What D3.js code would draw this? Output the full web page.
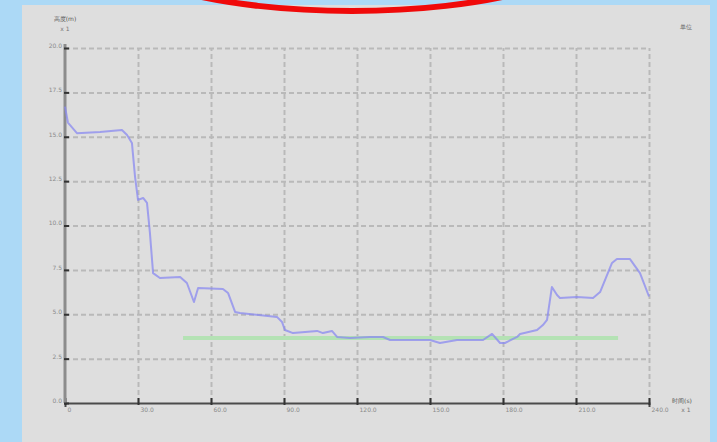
<!DOCTYPE html>
<html>
<head>
<meta charset="utf-8">
<script src="https://cdn.jsdelivr.net/npm/d3@7"></script>
<style>
  html, body { margin: 0; padding: 0; background: #acd9f6; }
  svg { display: block; }
  text { font-family: "DejaVu Sans", sans-serif; }
</style>
</head>
<body>
<div id="chart"></div>
<script>
// tick labels
const xTicks = [0, 30, 60, 90, 120, 150, 180, 210, 240];
const xTickLabels = ["0", "30.0", "60.0", "90.0", "120.0", "150.0", "180.0", "210.0", "240.0"];
const yTicks = [0, 2.5, 5, 7.5, 10, 12.5, 15, 17.5, 20];
const yTickLabels = ["0.0", "2.5", "5.0", "7.5", "10.0", "12.5", "15.0", "17.5", "20.0"];

// measured series (blue)
const measX = [0, 1.2, 4.9, 14.4, 23.4, 25.5, 27.5, 28.8, 30.0, 32.1, 33.7, 34.9, 36.2, 39.0, 47.3, 50.1, 53.0, 54.7,
  64.9, 67.0, 69.9, 71.9, 87.1, 89.2, 90.4, 93.7, 103.6, 106.0, 109.7, 111.8, 117.1, 125.3, 130.7, 133.6, 150.0,
  154.1, 161.1, 171.8, 175.5, 178.8, 180.8, 185.8, 187.0, 194.0, 196.4, 198.1, 200.1, 202.2, 203.4, 210.4, 217.0,
  219.9, 224.8, 226.8, 232.2, 236.3, 240];
const measY = [16.7, 15.8, 15.2, 15.27, 15.38, 15.1, 14.65, 12.73, 11.44, 11.55, 11.27, 9.58, 7.32, 7.04, 7.1, 6.76, 5.69, 6.48,
  6.42, 6.2, 5.13, 5.07, 4.85, 4.56, 4.11, 3.94, 4.06, 3.94, 4.06, 3.72, 3.66, 3.72, 3.72, 3.55, 3.55,
  3.38, 3.55, 3.55, 3.89, 3.38, 3.38, 3.72, 3.89, 4.11, 4.39, 4.68, 6.54, 6.08, 5.92, 5.97, 5.92,
  6.25, 7.89, 8.11, 8.11, 7.32, 6.0];

// reference series (green)
const refX = [48.5, 227.3];
const refY = [3.66, 3.66];

const width = 717, height = 442;
const m = { left: 65, right: 649, top: 48, bottom: 403 };

const svg = d3.select("#chart").append("svg")
  .attr("width", width)
  .attr("height", height);

// panel
svg.append("rect")
  .attr("x", 22).attr("y", 5)
  .attr("width", 688).attr("height", 440)
  .attr("fill", "#dedede");

// red annotation ring at top
svg.append("ellipse")
  .attr("cx", 352).attr("cy", -62)
  .attr("rx", 255).attr("ry", 73)
  .attr("fill", "none")
  .attr("stroke", "#f00a0a")
  .attr("stroke-width", 6);

const x = d3.scaleLinear().domain([0, 240]).range([m.left, m.right]);
const y = d3.scaleLinear().domain([0, 20]).range([m.bottom, m.top]);

// grid
const gridX = svg.append("g")
  .attr("transform", `translate(0, ${m.bottom})`)
  .call(d3.axisBottom(x).tickValues(xTicks.slice(1)).tickSize(-(m.bottom - m.top)).tickFormat(""));
const gridY = svg.append("g")
  .attr("transform", `translate(${m.left}, 0)`)
  .call(d3.axisLeft(y).tickValues(yTicks.slice(1)).tickSize(-(m.right - m.left)).tickFormat(""));
[gridX, gridY].forEach(g => {
  g.select(".domain").remove();
  g.selectAll("line")
    .attr("stroke", "#b9b9b9")
    .attr("stroke-width", 2)
    .attr("stroke-dasharray", "5,3");
});

// axes
const xAxis = svg.append("g")
  .attr("transform", `translate(0, ${m.bottom})`)
  .call(d3.axisBottom(x).tickValues(xTicks).tickSize(4).tickFormat((d, i) => xTickLabels[i]));
xAxis.select(".domain").attr("stroke", "#4a4a4a").attr("stroke-width", 2);
xAxis.selectAll(".tick line").attr("stroke", "#333").attr("stroke-width", 2).attr("y1", -5).attr("y2", 2);
xAxis.selectAll(".tick text")
  .attr("fill", "#8a8a8a").attr("font-size", 6)
  .attr("text-anchor", "start").attr("dx", 2).attr("y", 5);

const yAxis = svg.append("g")
  .attr("transform", `translate(${m.left}, 0)`)
  .call(d3.axisLeft(y).tickValues(yTicks).tickSize(4).tickFormat((d, i) => yTickLabels[i]));
yAxis.select(".domain").attr("stroke", "#8c8c8c").attr("stroke-width", 3)
  .attr("d", `M0,${m.bottom}V${m.top - 4}`);
yAxis.selectAll(".tick line").attr("stroke", "#333").attr("stroke-width", 2).attr("x1", 4).attr("x2", -1);
yAxis.selectAll(".tick text")
  .attr("fill", "#8a8a8a").attr("font-size", 6)
  .attr("x", -3).attr("dy", "-0.1em");

// reference line
svg.append("path")
  .datum(refX.map((d, i) => [d, refY[i]]))
  .attr("fill", "none")
  .attr("stroke", "#b4e2b4")
  .attr("stroke-width", 4)
  .attr("d", d3.line().x(d => x(d[0])).y(d => y(d[1])));

// measured line
svg.append("path")
  .datum(measX.map((d, i) => [d, measY[i]]))
  .attr("fill", "none")
  .attr("stroke", "#8a8af0")
  .attr("stroke-opacity", 0.75)
  .attr("stroke-width", 2)
  .attr("stroke-linejoin", "round")
  .attr("d", d3.line().x(d => x(d[0])).y(d => y(d[1])));

// axis titles
svg.append("text").attr("x", 65).attr("y", 21)
  .attr("text-anchor", "middle").attr("font-size", 6).attr("fill", "#555")
  .text("高度(m)");
svg.append("text").attr("x", 65).attr("y", 31)
  .attr("text-anchor", "middle").attr("font-size", 6).attr("fill", "#777")
  .text("x 1");
svg.append("text").attr("x", 682).attr("y", 403)
  .attr("text-anchor", "middle").attr("font-size", 6).attr("fill", "#555")
  .text("时间(s)");
svg.append("text").attr("x", 686).attr("y", 412)
  .attr("text-anchor", "middle").attr("font-size", 6).attr("fill", "#777")
  .text("x 1");
svg.append("text").attr("x", 686).attr("y", 29)
  .attr("text-anchor", "middle").attr("font-size", 6).attr("fill", "#666")
  .text("单位");
</script>
</body>
</html>
